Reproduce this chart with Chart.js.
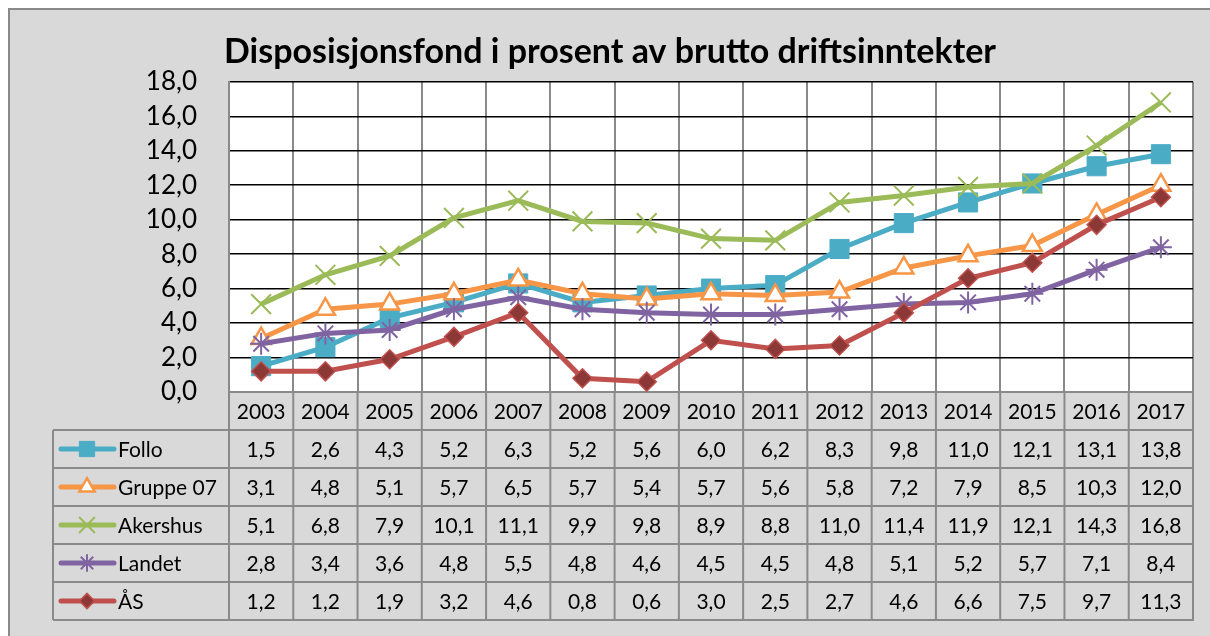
<!DOCTYPE html>
<html>
<head>
<meta charset="utf-8">
<title>Disposisjonsfond</title>
<script src="https://cdn.jsdelivr.net/npm/chart.js@4/dist/chart.umd.min.js"></script>
<style>
  html, body { margin: 0; padding: 0; background: #fff; }
</style>
</head>
<body>
<canvas id="fondChart" width="1210" height="636"></canvas>
<script>
// Data
const years = ['2003', '2004', '2005', '2006', '2007', '2008', '2009', '2010',
               '2011', '2012', '2013', '2014', '2015', '2016', '2017'];
const follo    = [1.5, 2.6, 4.3, 5.2, 6.3, 5.2, 5.6, 6.0, 6.2, 8.3, 9.8, 11.0, 12.1, 13.1, 13.8];
const gruppe07 = [3.1, 4.8, 5.1, 5.7, 6.5, 5.7, 5.4, 5.7, 5.6, 5.8, 7.2, 7.9, 8.5, 10.3, 12.0];
const akershus = [5.1, 6.8, 7.9, 10.1, 11.1, 9.9, 9.8, 8.9, 8.8, 11.0, 11.4, 11.9, 12.1, 14.3, 16.8];
const landet   = [2.8, 3.4, 3.6, 4.8, 5.5, 4.8, 4.6, 4.5, 4.5, 4.8, 5.1, 5.2, 5.7, 7.1, 8.4];
const aas      = [1.2, 1.2, 1.9, 3.2, 4.6, 0.8, 0.6, 3.0, 2.5, 2.7, 4.6, 6.6, 7.5, 9.7, 11.3];
const seriesNames = ['Follo', 'Gruppe 07', 'Akershus', 'Landet', 'ÅS'];
const seriesData = [follo, gruppe07, akershus, landet, aas];

const FONT = 'Lato';
const fmt = v => v.toFixed(1).replace('.', ',');

// marker looks, Excel 2007 palette
const looks = [
  { color: '#4bacc6', style: 'rect',     radius: 13.5, fill: '#4bacc6', border: '#4bacc6', bw: 1 },
  { color: '#f79646', style: 'triangle', radius: 11,   fill: '#ffffff', border: '#f79646', bw: 2.5 },
  { color: '#9bbb59', style: 'crossRot', radius: 14,   fill: '#9bbb59', border: '#9bbb59', bw: 2 },
  { color: '#8064a2', style: 'star',     radius: 11,   fill: '#8064a2', border: '#8064a2', bw: 2 },
  { color: '#c0504d', style: 'rectRot',  radius: 9.5,  fill: '#8c3836', border: '#c0504d', bw: 1.5 }
];

const datasets = seriesNames.map((name, i) => ({
  label: name,
  data: seriesData[i],
  borderColor: looks[i].color,
  backgroundColor: looks[i].color,
  borderWidth: 5,
  tension: 0,
  pointStyle: looks[i].style,
  pointRadius: looks[i].radius,
  pointBackgroundColor: looks[i].fill,
  pointBorderColor: looks[i].border,
  pointBorderWidth: looks[i].bw,
  order: seriesNames.length - i   // later series on top, like Excel
}));

// grey frame and white plot area
const backdrop = {
  id: 'backdrop',
  beforeDraw(chart) {
    const { ctx, chartArea: a } = chart;
    ctx.save();
    ctx.fillStyle = '#fff';
    ctx.fillRect(0, 0, chart.width, chart.height);
    ctx.fillStyle = '#d9d9d9';
    ctx.fillRect(8, 8, chart.width, chart.height);
    ctx.strokeStyle = '#898989';
    ctx.lineWidth = 2;
    ctx.beginPath();
    ctx.moveTo(9, chart.height);
    ctx.lineTo(9, 9);
    ctx.lineTo(chart.width, 9);
    ctx.stroke();
    ctx.fillStyle = '#fff';
    ctx.fillRect(a.left, a.top, a.right - a.left, a.bottom - a.top);
    ctx.restore();
  }
};

// data table under the plot, columns follow the x scale
const dataTable = {
  id: 'dataTable',
  afterDraw(chart) {
    const { ctx, chartArea: a } = chart;
    const x = chart.scales.x;
    const rowH = 38;
    const top = a.bottom;
    const legLeft = 53;
    const bottom = top + rowH * (seriesNames.length + 1);
    const colW = (a.right - a.left) / years.length;

    ctx.save();
    ctx.strokeStyle = '#8a8a8a';
    ctx.lineWidth = 2;
    ctx.beginPath();
    for (let r = 1; r <= seriesNames.length + 1; r++) {
      const y = top + r * rowH;
      ctx.moveTo(legLeft, y);
      ctx.lineTo(a.right + 1, y);
    }
    for (let c = 0; c < years.length; c++) {
      const xx = x.getPixelForValue(c) - colW / 2;
      ctx.moveTo(xx, top);
      ctx.lineTo(xx, bottom);
    }
    ctx.moveTo(a.right, top);
    ctx.lineTo(a.right, bottom);
    ctx.moveTo(legLeft, top + rowH);
    ctx.lineTo(legLeft, bottom);
    ctx.stroke();

    ctx.fillStyle = '#000';
    ctx.font = '21px ' + FONT;
    ctx.textAlign = 'center';
    ctx.textBaseline = 'middle';
    years.forEach((yr, c) => {
      ctx.fillText(yr, x.getPixelForValue(c), top + rowH / 2 + 1);
    });

    seriesNames.forEach((name, i) => {
      const yMid = top + (i + 1) * rowH + rowH / 2;
      ctx.fillStyle = '#000';
      ctx.textAlign = 'center';
      seriesData[i].forEach((v, c) => {
        ctx.fillText(fmt(v), x.getPixelForValue(c), yMid + 1);
      });

      // legend key
      const lk = looks[i];
      ctx.strokeStyle = lk.color;
      ctx.lineWidth = 5;
      ctx.lineCap = 'round';
      ctx.beginPath();
      ctx.moveTo(61, yMid);
      ctx.lineTo(114, yMid);
      ctx.stroke();
      ctx.lineCap = 'butt';
      ctx.fillStyle = lk.fill;
      ctx.strokeStyle = lk.border;
      ctx.lineWidth = lk.bw;
      Chart.helpers.drawPoint(ctx, {
        pointStyle: lk.style, radius: lk.radius * 0.8, rotation: 0, borderWidth: lk.bw
      }, 87, yMid);

      ctx.fillStyle = '#000';
      ctx.textAlign = 'left';
      ctx.fillText(name, 118, yMid + 1);
    });
    ctx.restore();
  }
};

const ctx = document.getElementById('fondChart').getContext('2d');
new Chart(ctx, {
  type: 'line',
  data: { labels: years, datasets: datasets },
  options: {
    responsive: false,
    animation: false,
    layout: { padding: { left: 27, right: 17, top: 0, bottom: 244 } },
    plugins: {
      legend: { display: false },
      tooltip: { enabled: false },
      title: {
        display: true,
        text: 'Disposisjonsfond i prosent av brutto driftsinntekter',
        color: '#000',
        font: { family: FONT, size: 34, weight: 'bold', lineHeight: 1.2 },
        padding: { top: 32, bottom: 9 }
      }
    },
    scales: {
      x: {
        offset: true,
        grid: { offset: true, color: '#8a8a8a', lineWidth: 2, drawTicks: false },
        border: { color: '#8a8a8a', width: 2 },
        ticks: { display: false }
      },
      y: {
        min: 0,
        max: 18,
        afterFit(scale) { scale.width = 202; },
        grid: { color: '#000', lineWidth: 1.5, drawTicks: false },
        border: { color: '#8a8a8a', width: 2 },
        ticks: {
          stepSize: 2,
          autoSkip: false,
          padding: 32,
          color: '#000',
          font: { family: FONT, size: 26, lineHeight: 1 },
          callback: v => fmt(v)
        }
      }
    }
  },
  plugins: [backdrop, dataTable]
});
</script>
</body>
</html>
